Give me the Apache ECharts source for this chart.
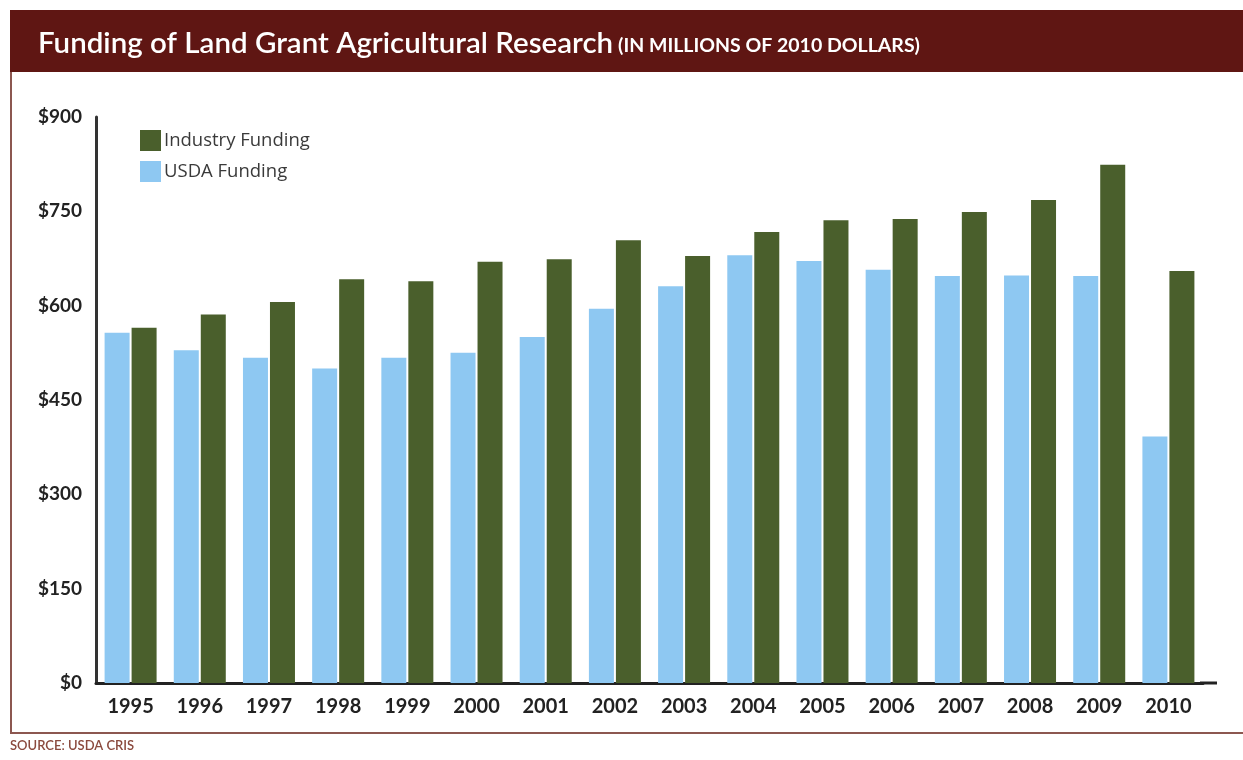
<!DOCTYPE html>
<html>
<head>
<meta charset="utf-8">
<script src="https://cdn.jsdelivr.net/npm/echarts@6/dist/echarts.min.js"></script>
<style>
html,body{margin:0;padding:0;background:#fff;}
#chart{width:1243px;height:760px;}
</style>
</head>
<body>
<div id="chart"></div>
<script>
const years = ['1995','1996','1997','1998','1999','2000','2001','2002','2003','2004','2005','2006','2007','2008','2009','2010'];
const usdaFunding = [557,529,517,500,517,525,550,595,631,680,671,657,647,648,647,392];
const industryFunding = [565,586,606,642,639,670,674,704,679,717,736,738,749,768,824,655];
const yTicks = {min:0, max:900, interval:150};

const chart = echarts.init(document.getElementById('chart'));
const font = 'Lato, "Open Sans", sans-serif';
chart.setOption({
  animation:false,
  backgroundColor:'#fff',
  graphic:[
    {type:'rect', shape:{x:10,y:10,width:1240,height:62}, style:{fill:'#5f1613'}, z:-1},
    {type:'polyline', shape:{points:[[11,72],[11,733],[1250,733]]}, style:{stroke:'#8c5750',lineWidth:2,fill:null}, z:-1},
    {type:'line', shape:{x1:1200,y1:683,x2:1217,y2:683}, style:{stroke:'#222',lineWidth:3}},
    {type:'text', left:10, top:739, style:{text:'SOURCE: USDA CRIS', fill:'#8b4a3e', font:'600 13px '+font}}
  ],
  title:{
    left:33, top:23,
    text:'{a|Funding of Land Grant Agricultural Research} {b|(IN MILLIONS OF 2010 DOLLARS)}',
    textStyle:{
      rich:{
        a:{color:'#fff', fontSize:29.5, fontFamily:font, fontWeight:600},
        b:{color:'#fff', fontSize:19.5, fontFamily:font, fontWeight:'bold', padding:[6,0,0,0]}
      }
    }
  },
  legend:{
    orient:'vertical', left:135, top:125,
    itemWidth:21, itemHeight:21, itemGap:10,
    icon:'rect',
    data:['Industry Funding','USDA Funding'],
    textStyle:{fontSize:18.5, color:'#3a3a3a', fontFamily:'"Open Sans", sans-serif', padding:[0,0,0,-2]}
  },
  grid:{left:96, right:40, top:117, bottom:77, containLabel:false},
  xAxis:{
    type:'category', data:years,
    axisLine:{lineStyle:{color:'#222', width:3}},
    axisTick:{show:false},
    axisLabel:{fontSize:20, fontWeight:'bold', color:'#222', fontFamily:font, margin:14}
  },
  yAxis:{
    type:'value', min:yTicks.min, max:yTicks.max, interval:yTicks.interval,
    axisLine:{show:true, lineStyle:{color:'#333', width:3}},
    axisTick:{show:false},
    splitLine:{show:false},
    axisLabel:{fontSize:19, fontWeight:'bold', color:'#222', fontFamily:font, margin:14,
      formatter:v=>'$'+v}
  },
  series:[
    {name:'USDA Funding', type:'bar', data:usdaFunding, barWidth:25, barGap:'8%',
     itemStyle:{color:'#8ec8f2'}},
    {name:'Industry Funding', type:'bar', data:industryFunding, barWidth:25, barGap:'8%',
     itemStyle:{color:'#4a5f2c'}}
  ]
});
</script>
</body>
</html>
